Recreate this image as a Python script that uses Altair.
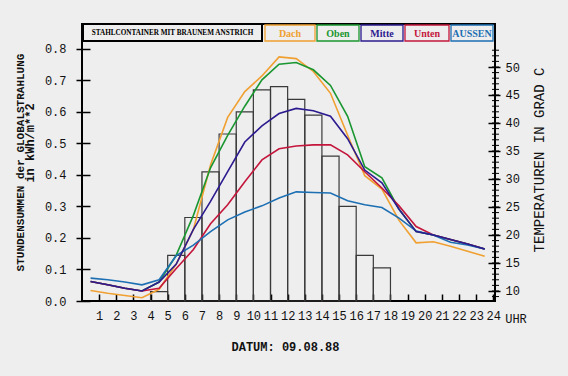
import altair as alt
import pandas as pd

# ---------------- data ----------------
hours = [0.5, 1.5, 2.5, 3.5, 4.5, 5.5, 6.5, 7.5, 8.5, 9.5, 10.5, 11.5,
         12.5, 13.5, 14.5, 15.5, 16.5, 17.5, 18.5, 19.5, 20.5, 21.5, 22.5, 23.5]

dach = [10.1, 9.6, 9.2, 8.8, 10.3, 14.8, 21.0, 32.5, 41.0, 45.6, 48.4, 51.8,
        51.5, 49.2, 45.3, 37.8, 30.6, 28.2, 22.6, 18.6, 18.8, 18.0, 17.1, 16.2]
oben = [11.7, 11.1, 10.5, 10.0, 11.6, 16.4, 23.5, 32.0, 37.8, 43.0, 47.7, 50.5,
        50.8, 49.5, 46.7, 41.2, 32.2, 30.2, 24.6, 20.6, 20.0, 19.2, 18.4, 17.5]
mitte = [11.7, 11.1, 10.5, 10.0, 11.6, 14.8, 21.0, 26.0, 31.3, 36.6, 39.5, 41.7,
         42.6, 42.2, 41.2, 37.2, 31.6, 29.3, 24.6, 20.6, 20.0, 19.2, 18.4, 17.5]
unten = [11.7, 11.1, 10.5, 10.0, 10.5, 14.0, 17.4, 22.0, 25.4, 29.5, 33.4, 35.4,
         35.9, 36.1, 36.1, 34.3, 31.3, 28.4, 25.2, 21.5, 20.0, 19.2, 18.4, 17.5]
aussen = [12.3, 12.0, 11.6, 11.1, 12.0, 16.3, 18.2, 20.6, 22.7, 24.1, 25.2, 26.6,
          27.7, 27.6, 27.5, 26.1, 25.4, 24.9, 23.0, 20.7, 20.0, 18.7, 18.2, 17.5]

bar_start = [4, 5, 6, 7, 8, 9, 10, 11, 12, 13, 14, 15, 16, 17]
glob = [0.03, 0.145, 0.265, 0.41, 0.53, 0.60, 0.67, 0.68, 0.64, 0.59, 0.46,
        0.30, 0.145, 0.105]

series_names = ["Dach", "Oben", "Mitte", "Unten", "AUSSEN"]
series_colors = ["#f0a030", "#1a9630", "#2b1b8f", "#c4163c", "#1d6fb3"]

x_ticks = list(range(1, 25))
left_ticks = [0.0, 0.1, 0.2, 0.3, 0.4, 0.5, 0.6, 0.7, 0.8]
right_ticks = [10, 15, 20, 25, 30, 35, 40, 45, 50]
minor_ticks = list(range(9, 54))

title_text = "STAHLCONTAINER MIT BRAUNEM ANSTRICH"
left_title1 = "STUNDENSUMMEN der GLOBALSTRAHLUNG"
left_title2 = "in kWh/m**2"
right_title = "TEMPERATUREN IN GRAD C"
date_text = "DATUM:  09.08.88"

# ---------------- layout ----------------
W, H = 413, 277
FONT = "Liberation Mono"
SERIF = "Liberation Serif"
BG = "#eeeeee"

xscale = alt.Scale(domain=[0, 24.1], nice=False, zero=False)
xaxis = alt.Axis(values=x_ticks, title=None, offset=-7, tickSize=7, domain=False,
                 grid=False, labelFont=FONT, labelFontSize=12, labelPadding=9,
                 tickColor="black", tickWidth=1.5, labelColor="#111",
                 labelFlush=False, labelOverlap=False)

yL = alt.Y("v:Q", scale=alt.Scale(domain=[0, 0.879], nice=False, zero=False),
           axis=alt.Axis(values=left_ticks, format=".1f", offset=-8, tickSize=14,
                         domain=False, grid=False, title=None, labelFont=FONT,
                         labelFontSize=12, labelPadding=10, tickColor="black",
                         tickWidth=1.5, labelColor="#111", labelFlush=False))

rscale = alt.Scale(domain=[8.21, 57.68], nice=False, zero=False)
raxis = alt.Axis(orient="right", values=right_ticks, offset=-7, tickSize=12,
                 domain=False, grid=False, title=None, labelFont=FONT,
                 labelFontSize=12, labelPadding=5, tickColor="black",
                 tickWidth=1.5, labelColor="#111", labelFlush=False)

# bars (global radiation)
bars_df = pd.DataFrame({"s": bar_start, "e": [b + 1 for b in bar_start], "v": glob})
bars = alt.Chart(bars_df).mark_rect(fillOpacity=0, stroke="#3a3a3a", strokeWidth=1.2).encode(
    x=alt.X("s:Q", scale=xscale, axis=xaxis),
    x2="e:Q",
    y=yL,
    y2=alt.datum(0),
)

# temperature lines
series_values = [dach, oben, mitte, unten, aussen]
line_layers = []
for idx in [0, 1, 3, 4, 2]:
    df = pd.DataFrame({"h": hours, "T": series_values[idx]})
    line_layers.append(
        alt.Chart(df).mark_line(color=series_colors[idx], strokeWidth=1.6).encode(
            x=alt.X("h:Q", scale=xscale, axis=xaxis),
            y=alt.Y("T:Q", scale=rscale, axis=raxis),
        )
    )

minor = alt.Chart(pd.DataFrame({"T": minor_ticks})).mark_rule(color="black", strokeWidth=1).encode(
    x=alt.value(410), x2=alt.value(417),
    y=alt.Y("T:Q", scale=rscale, axis=raxis),
)

temps = alt.layer(*line_layers, minor)

one = pd.DataFrame({"a": [0]})

def txt(text, x, y, size, color="#111", font=FONT, weight="normal", angle=0):
    return alt.Chart(one).mark_text(text=text, font=font, fontSize=size, color=color,
                                    fontWeight=weight, angle=angle, align="center",
                                    baseline="middle").encode(x=alt.value(x), y=alt.value(y))

def box(x1, x2, y1, y2, color, sw):
    return alt.Chart(one).mark_rect(fill=BG, stroke=color, strokeWidth=sw).encode(
        x=alt.value(x1), x2=alt.value(x2), y=alt.value(y1), y2=alt.value(y2))

deco = [
    box(1, 180, 0, 17, "black", 2),
    txt(title_text, 90.5, 9, 7.2, color="black", font=SERIF, weight="bold"),
]
box_x = [(183, 233), (235, 277), (279, 321), (323, 367), (369, 411)]
for (a, b), name, col in zip(box_x, series_names, series_colors):
    deco.append(box(a, b, 1, 17, col, 1.3))
    deco.append(txt(name, (a + b) / 2, 9.5, 10, color=col, font=SERIF, weight="bold"))

deco += [
    txt(left_title1, -61, 138.5, 11, weight="bold", angle=270),
    txt(left_title2, -52, 119, 12, weight="bold", angle=270),
    txt(right_title, 458, 136, 14, angle=270),
    txt("UHR", 434, 295, 12),
    txt(date_text, 203.5, 323, 12, weight="bold"),
]

chart = alt.layer(bars, temps, *deco).resolve_scale(y="independent").properties(
    width=W, height=H,
    autosize="none",
    padding={"left": 82, "top": 24, "right": 73, "bottom": 75},
    background=BG,
).configure_view(stroke="black", strokeWidth=2)

chart.save("out.html", embed_options={"renderer": "svg", "actions": False})
